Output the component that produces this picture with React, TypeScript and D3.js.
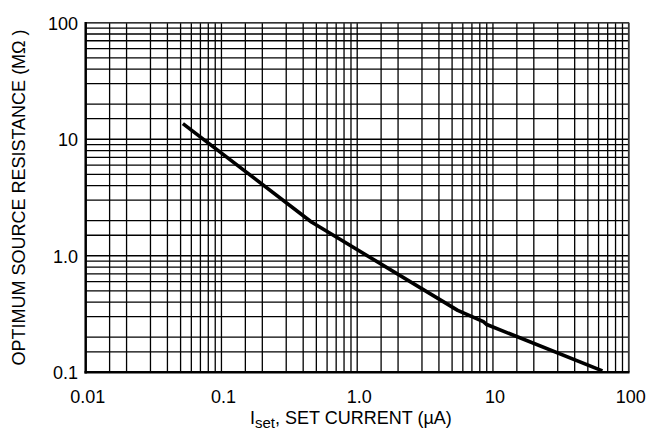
import React from "react";
import * as d3 from "d3";

const xDecades = [0.01, 0.1, 1, 10, 100];
const xTickLabels = ["0.01", "0.1", "1.0", "10", "100"];
const yDecades = [0.1, 1, 10, 100];
const yTickLabels = ["0.1", "1.0", "10", "100"];
const minorMultipliers = [1.5, 2, 3, 4, 5, 6, 7, 8, 9];

const curveX = [0.052, 0.46, 5.5, 8.5, 9.0, 64];
const curveY = [13.6, 1.95, 0.34, 0.272, 0.257, 0.103];

const W = 660;
const H = 441;
const L = 85.7, R = 628.7, T = 22.7, B = 372.3;
const FONT = "'Liberation Sans', Arial, Helvetica, sans-serif";

export default function App() {
  const x = d3.scaleLog().domain([0.01, 100]).range([L, R]);
  const y = d3.scaleLog().domain([0.1, 100]).range([B, T]);

  const xGrid: number[] = [];
  xDecades.slice(0, -1).forEach((d) => {
    minorMultipliers.forEach((m) => xGrid.push(d * m));
    xGrid.push(d * 10);
  });
  const yGrid: number[] = [];
  yDecades.slice(0, -1).forEach((d) => {
    minorMultipliers.forEach((m) => yGrid.push(d * m));
    yGrid.push(d * 10);
  });

  const line = d3
    .line<number>()
    .x((_, i) => x(curveX[i]))
    .y((v) => y(v));

  return (
    <svg
      width={W}
      height={H}
      style={{ position: "absolute", left: 0, top: 0, background: "#fff" }}
      fontFamily={FONT}
    >
      <rect x={0} y={0} width={W} height={H} fill="#fff" />
      {xGrid.map((v, i) => (
        <line key={"xg" + i} x1={x(v)} x2={x(v)} y1={T} y2={B} stroke="#000" strokeWidth={1.3} />
      ))}
      {yGrid.map((v, i) => (
        <line key={"yg" + i} x1={L} x2={R} y1={y(v)} y2={y(v)} stroke="#000" strokeWidth={1.3} />
      ))}
      {/* frame */}
      <line x1={L} x2={R} y1={T} y2={T} stroke="#333" strokeWidth={1.6} />
      <line x1={R} x2={R} y1={T} y2={B} stroke="#333" strokeWidth={1.6} />
      <line x1={L} x2={L} y1={T - 0.8} y2={B + 1.2} stroke="#000" strokeWidth={2.5} />
      <line x1={L - 1.2} x2={R + 0.8} y1={B} y2={B} stroke="#000" strokeWidth={2.5} />

      <path d={line(curveY) || ""} fill="none" stroke="#000" strokeWidth={3.6} strokeLinejoin="round" />

      {yDecades.map((v, i) => (
        <text key={"yt" + i} x={78} y={y(v) + 7} textAnchor="end" fontSize={18} fill="#000">
          {yTickLabels[i]}
        </text>
      ))}
      {xDecades.map((v, i) => (
        <text key={"xt" + i} x={x(v) + 2} y={403} textAnchor="middle" fontSize={18} fill="#000">
          {xTickLabels[i]}
        </text>
      ))}

      <text x={250} y={424} fontSize={18} fill="#000">
        I<tspan fontSize={15} dy={4}>set</tspan>
        <tspan dy={-4}>, SET CURRENT (µA)</tspan>
      </text>

      <text
        transform={`translate(25,${(T + B) / 2}) rotate(-90)`}
        textAnchor="middle"
        fontSize={18}
        fill="#000"
      >
        OPTIMUM SOURCE RESISTANCE (MΩ )
      </text>
    </svg>
  );
}
